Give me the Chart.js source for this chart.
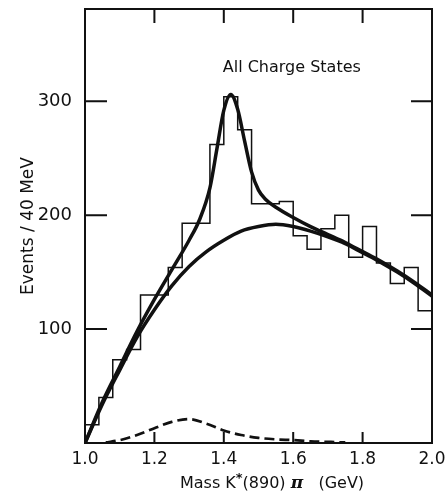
<!DOCTYPE html>
<html>
<head>
<meta charset="utf-8">
<script src="https://cdn.jsdelivr.net/npm/chart.js@4/dist/chart.umd.min.js"></script>
<style>
    html, body { margin: 0; padding: 0; background: #fff; }
    #wrap { width: 448px; height: 496px; }
</style>
</head>
<body>
<div id="wrap"><canvas id="kstar_pi" width="448" height="496"></canvas></div>
<script>
// HISTOGRAMME : EVENEMENTS PAR BIN DE 40 MeV
var bin_edges = [1.00, 1.04, 1.08, 1.12, 1.16, 1.20, 1.24, 1.28, 1.32, 1.36, 1.40, 1.44, 1.48,
                 1.52, 1.56, 1.60, 1.64, 1.68, 1.72, 1.76, 1.80, 1.84, 1.88, 1.92, 1.96, 2.00];
var bin_counts = [16, 40, 73, 82, 130, 130, 154, 193, 193, 262, 304, 275, 210,
                  210, 212, 182, 170, 188, 200, 163, 190, 158, 140, 154, 116];

// FIT TOTAL (fond + K*(1420) + composante basse)
var total_mass = [1.00, 1.05, 1.10, 1.15, 1.20, 1.25, 1.30, 1.33, 1.36, 1.38, 1.40, 1.42, 1.44, 1.46,
                  1.48, 1.50, 1.52, 1.55, 1.60, 1.65, 1.70, 1.75, 1.80, 1.85, 1.90, 1.95, 2.00];
var total_fit = [0, 36, 67, 98, 126, 152, 178, 196, 224, 258, 292, 306, 293, 265,
                 238, 222, 214, 207, 198, 190, 183, 176, 168, 160, 151, 141, 130];

// FOND
var bg_mass = [1.00, 1.05, 1.10, 1.15, 1.20, 1.25, 1.30, 1.35, 1.40, 1.45, 1.50,
               1.55, 1.60, 1.65, 1.70, 1.75, 1.80, 1.85, 1.90, 1.95, 2.00];
var bg_fit = [0, 34, 64, 93, 117, 138, 155, 168, 178, 186, 190,
              192, 190, 186, 181, 175, 167, 159, 150, 140, 129];

// COMPOSANTE EN TIRETS
var dash_mass = [1.06, 1.10, 1.15, 1.20, 1.25, 1.30, 1.35, 1.40, 1.45, 1.50, 1.55, 1.60, 1.65, 1.70, 1.75];
var dash_fit = [0.5, 2.5, 7, 13, 18.5, 21, 17, 11, 7, 4.5, 3.2, 2.5, 1.5, 1, 0.5];

var x_ticks = [1.0, 1.2, 1.4, 1.6, 1.8, 2.0];
var y_ticks = [100, 200, 300];

var INK = "#111111";
var FONT = "'DejaVu Sans', sans-serif";

function to_points(xs, ys) {
    var pts = [];
    for (var i = 0; i < xs.length; i++) {
        pts.push({x: xs[i], y: ys[i]});
    }
    return pts;
}

function histo_points() {
    var pts = [];
    for (var i = 0; i < bin_counts.length; i++) {
        pts.push({x: bin_edges[i], y: bin_counts[i]});
    }
    pts.push({x: bin_edges[bin_edges.length - 1], y: bin_counts[bin_counts.length - 1]});
    return pts;
}

// cadre, petites graduations interieures et textes
var frame_plugin = {
    id: 'frame',
    afterDraw: function (chart) {
        var c = chart.ctx;
        var a = chart.chartArea;
        var xs = chart.scales.x;
        var ys = chart.scales.y;

        c.save();
        c.strokeStyle = INK;
        c.lineWidth = 2;
        c.strokeRect(a.left, a.top, a.right - a.left, a.bottom - a.top);

        c.beginPath();
        x_ticks.forEach(function (v) {
            if (v <= 1.0 || v >= 2.0) return;
            var px = xs.getPixelForValue(v);
            c.moveTo(px, a.bottom); c.lineTo(px, a.bottom - 11);
            c.moveTo(px, a.top); c.lineTo(px, a.top + 14);
        });
        y_ticks.forEach(function (v) {
            var py = ys.getPixelForValue(v);
            c.moveTo(a.left, py); c.lineTo(a.left + 22, py);
            c.moveTo(a.right, py); c.lineTo(a.right - 21, py);
        });
        c.stroke();

        c.fillStyle = INK;
        c.textBaseline = 'alphabetic';
        c.textAlign = 'left';
        c.font = "16px " + FONT;
        c.fillText("All Charge States", xs.getPixelForValue(1.397), ys.getPixelForValue(326));

        // titre de l'axe x : Mass K*(890) pi (GeV)
        var y0 = 488;
        var parts = [
            {t: "Mass K", f: "16px " + FONT, dy: 0},
            {t: "*", f: "bold 13px " + FONT, dy: -6},
            {t: "(890) ", f: "16px " + FONT, dy: 0},
            {t: "\u03C0", f: "italic bold 17px 'DejaVu Serif', serif", dy: 0},
            {t: "   (GeV)", f: "16px " + FONT, dy: 0}
        ];
        var w = 0;
        parts.forEach(function (p) { c.font = p.f; w += c.measureText(p.t).width; });
        var x0 = 272 - w / 2;
        parts.forEach(function (p) {
            c.font = p.f;
            c.fillText(p.t, x0, y0 + p.dy);
            x0 += c.measureText(p.t).width;
        });
        c.restore();
    }
};

function build_graph_kstar_pi() {
    var ctx = document.getElementById("kstar_pi");

    var data = {
        datasets: [
            {
                label: "Histogramme",
                data: histo_points(),
                stepped: 'before',
                borderColor: INK,
                borderWidth: 1.5,
                pointRadius: 0,
                fill: false
            },
            {
                label: "Total",
                data: to_points(total_mass, total_fit),
                cubicInterpolationMode: 'monotone',
                borderColor: INK,
                borderWidth: 3.5,
                pointRadius: 0,
                fill: false
            },
            {
                label: "Fond",
                data: to_points(bg_mass, bg_fit),
                cubicInterpolationMode: 'monotone',
                borderColor: INK,
                borderWidth: 3.5,
                pointRadius: 0,
                fill: false
            },
            {
                label: "Tirets",
                data: to_points(dash_mass, dash_fit),
                cubicInterpolationMode: 'monotone',
                borderColor: INK,
                borderWidth: 2.7,
                borderDash: [10, 5],
                pointRadius: 0,
                fill: false
            }
        ]
    };

    var option = {
        responsive: false,
        animation: false,
        layout: {padding: {top: 9, right: 16, left: 0, bottom: 0}},
        plugins: {legend: {display: false}, tooltip: {enabled: false}},
        scales: {
            x: {
                type: 'linear',
                min: 1.0,
                max: 2.0,
                afterFit: function (s) {
                    s.height = 53;
                    s.paddingLeft = 0;
                    s.paddingRight = 0;
                },
                afterBuildTicks: function (s) {
                    s.ticks = x_ticks.map(function (v) { return {value: v}; });
                },
                grid: {display: false, drawTicks: false},
                border: {display: false},
                ticks: {
                    color: INK,
                    font: {family: FONT, size: 17},
                    padding: 6,
                    maxRotation: 0,
                    callback: function (v) { return Number(v).toFixed(1); }
                }
            },
            y: {
                type: 'linear',
                min: 0,
                max: 381,
                afterFit: function (s) {
                    s.width = 85;
                    s.paddingTop = 0;
                    s.paddingBottom = 0;
                },
                afterBuildTicks: function (s) {
                    s.ticks = y_ticks.map(function (v) { return {value: v}; });
                },
                grid: {display: false, drawTicks: false},
                border: {display: false},
                ticks: {
                    color: INK,
                    font: {family: FONT, size: 18},
                    padding: 13
                },
                title: {
                    display: true,
                    text: "Events / 40 MeV",
                    color: INK,
                    font: {family: FONT, size: 17},
                    padding: {top: 18, bottom: 0}
                }
            }
        }
    };

    var myChart = new Chart(ctx, {
        type: 'line',
        data: data,
        options: option,
        plugins: [frame_plugin]
    });
}

build_graph_kstar_pi();
</script>
</body>
</html>
